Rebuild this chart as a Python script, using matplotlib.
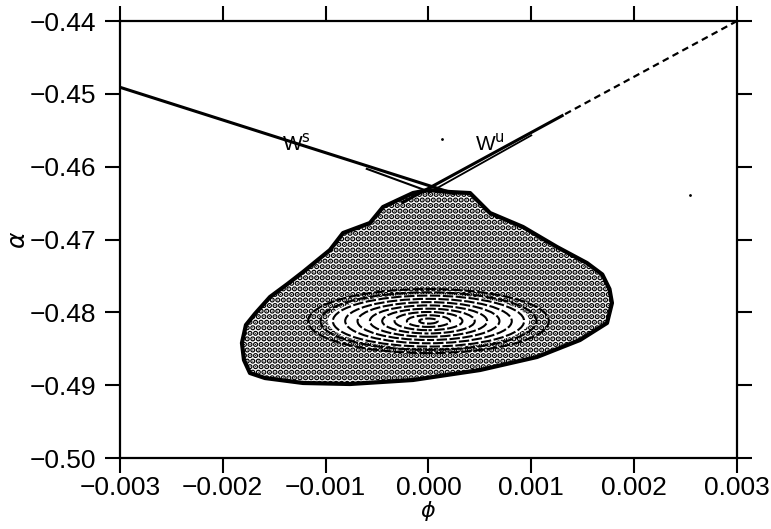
import numpy as np
import matplotlib
matplotlib.use("Agg")
import matplotlib.pyplot as plt
from matplotlib.patches import Polygon, Ellipse

plt.rcParams['font.family'] = ['Liberation Sans', 'DejaVu Sans']
plt.rcParams['mathtext.fontset'] = 'dejavusans'
plt.rcParams['hatch.linewidth'] = 2.8

# outline of the chaotic sea (phi, alpha)
sea_phi = [-0.001814, -0.001775, -0.001687, -0.001541, -0.001370, -0.001220,
           -0.000958, -0.000831, -0.000569, -0.000442, -0.000297, -0.000151,
           0.000000, 0.000209, 0.000404, 0.000598, 0.000919, 0.001250,
           0.001541, 0.001690, 0.001760, 0.001784, 0.001736, 0.001473,
           0.001055, 0.000501, -0.000151, -0.000763, -0.001220, -0.001590,
           -0.001736, -0.001794]
sea_alpha = [-0.48421, -0.48174, -0.48020, -0.47789, -0.47610, -0.47446,
             -0.47144, -0.46911, -0.46773, -0.46554, -0.46458, -0.46362,
             -0.46320, -0.46348, -0.46362, -0.46636, -0.46828, -0.47103,
             -0.47323, -0.47480, -0.47680, -0.47872, -0.48146, -0.48380,
             -0.48613, -0.48792, -0.48929, -0.48984, -0.48970, -0.48902,
             -0.48833, -0.48655]

# invariant curves round the elliptic point
ring_phi0 = 0.0
ring_alpha0 = -0.4812
ring_a = [0.00009, 0.00021, 0.00033, 0.00045, 0.00057, 0.00069, 0.00081,
          0.00093, 0.00105, 0.00117]
ring_b = [0.00035, 0.00080, 0.00125, 0.00170, 0.00215, 0.00260, 0.00305,
          0.00350, 0.00395, 0.00440]

# stable and unstable manifolds
ws_phi = [-0.003, 0.00025]
ws_alpha = [-0.4491, -0.4637]
ws2_phi = [-0.00060, 0.0000]
ws2_alpha = [-0.4603, -0.4634]
wu_dash_phi = [0.003, 0.0013]
wu_dash_alpha = [-0.4400, -0.4530]
wu_phi = [0.0013, -0.00025]
wu_alpha = [-0.4530, -0.4649]
wu2_phi = [0.0010, 0.0000]
wu2_alpha = [-0.4557, -0.4636]

# stray points
stray_phi = [0.000131, 0.002543]
stray_alpha = [-0.45620, -0.46389]

fig = plt.figure(figsize=(7.71, 5.29), dpi=100)
ax = fig.add_axes([0.1556, 0.1342, 0.8003, 0.8261])

sea = Polygon(np.column_stack([sea_phi, sea_alpha]), closed=True,
              facecolor='white', edgecolor='black', hatch='...', lw=3,
              joinstyle='round')
ax.add_patch(sea)

ax.add_patch(Ellipse((ring_phi0, ring_alpha0), 2 * 0.00098, 2 * 0.0037,
                     facecolor='white', edgecolor='none'))
for k, (a, b) in enumerate(zip(ring_a, ring_b)):
    ax.add_patch(Ellipse((ring_phi0, ring_alpha0), 2 * a, 2 * b,
                         facecolor='none', edgecolor='black', lw=1.5,
                         linestyle=(1.7 * k, (5, 1.2))))

ax.plot(ws_phi, ws_alpha, color='black', lw=2.2)
ax.plot(ws2_phi, ws2_alpha, color='black', lw=1.5)
ax.plot(wu_dash_phi, wu_dash_alpha, color='black', lw=1.6,
        linestyle=(0, (3, 2)))
ax.plot(wu_phi, wu_alpha, color='black', lw=2.2)
ax.plot(wu2_phi, wu2_alpha, color='black', lw=1.3)
ax.plot(stray_phi, stray_alpha, 'k.', ms=2)

ax.text(-0.00128, -0.45675, r'W$^{\rm s}$', fontsize=15, ha='center', va='center')
ax.text(0.00060, -0.45675, r'W$^{\rm u}$', fontsize=15, ha='center', va='center')

ax.set_xlim(-0.003, 0.003)
ax.set_ylim(-0.50, -0.44)
ax.set_xticks([-0.003, -0.002, -0.001, 0.0, 0.001, 0.002, 0.003])
ax.set_xticklabels(['−0.003', '−0.002', '−0.001', '0.000', '0.001', '0.002', '0.003'])
ax.set_yticks([-0.50, -0.49, -0.48, -0.47, -0.46, -0.45, -0.44])
ax.set_yticklabels(['−0.50', '−0.49', '−0.48', '−0.47', '−0.46', '−0.45', '−0.44'])
ax.tick_params(direction='out', length=11, width=1.5, labelsize=19,
               top=True, right=True)
ax.tick_params(axis='x', pad=2)
ax.tick_params(axis='y', pad=6)
for s in ax.spines.values():
    s.set_linewidth(1.6)

ax.set_xlabel(r'$\phi$', fontsize=16)
ax.xaxis.set_label_coords(0.5, -0.093)
ax.set_ylabel(r'$\alpha$', fontsize=18, labelpad=0)

fig.savefig('out.png', dpi=100)
